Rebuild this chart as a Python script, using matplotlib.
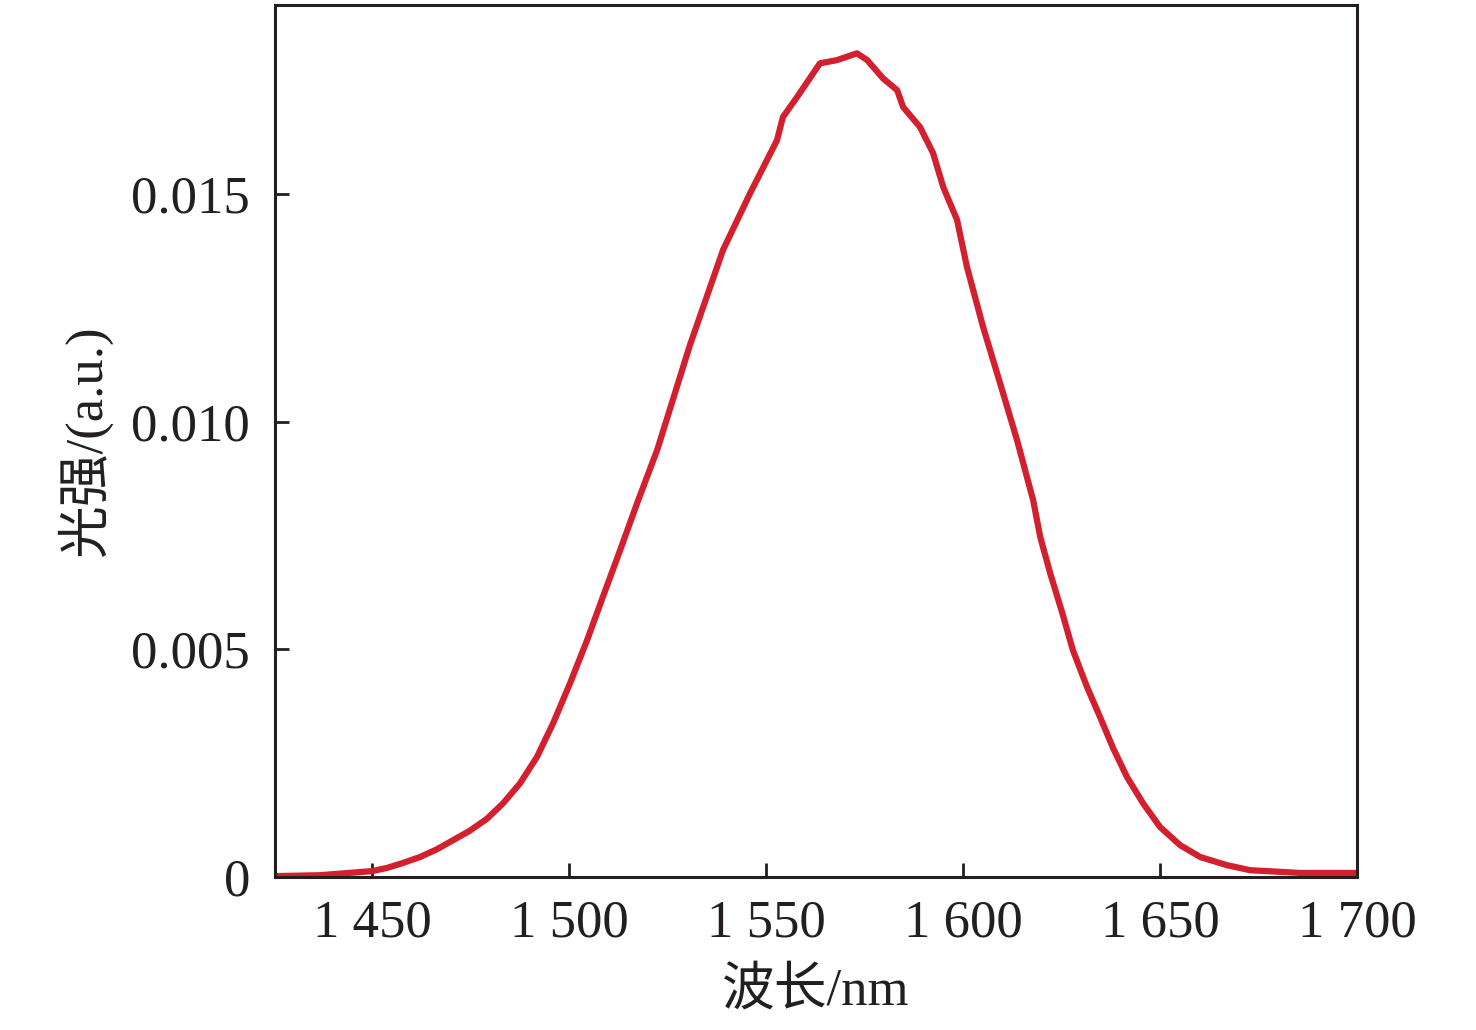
import matplotlib.pyplot as plt

# spectrum
wavelength = [1425.4, 1436.8, 1450.0, 1453.8, 1457.9, 1462.2, 1466.5, 1470.6,
              1474.9, 1479.2, 1483.3, 1487.6, 1491.9, 1496.0, 1500.3, 1504.6,
              1508.6, 1513.0, 1517.3, 1522.4, 1530.7, 1539.1, 1546.0, 1552.8,
              1554.3, 1557.9, 1563.7, 1568.0, 1573.1, 1575.7, 1579.7, 1583.3,
              1584.8, 1589.1, 1592.4, 1595.0, 1598.5, 1601.0, 1605.1, 1609.4,
              1613.7, 1617.8, 1619.6, 1622.1, 1625.2, 1627.9, 1631.5, 1634.8,
              1638.1, 1641.6, 1645.7, 1650.0, 1655.1, 1660.2, 1667.0, 1672.9,
              1685.6, 1699.5]
intensity = [0.00002, 0.00004, 0.00013, 0.00020, 0.00031, 0.00044, 0.00061,
             0.00081, 0.00102, 0.00128, 0.00162, 0.00206, 0.00264, 0.00338,
             0.00426, 0.00520, 0.00615, 0.00718, 0.00821, 0.00938, 0.01168,
             0.01377, 0.01502, 0.01618, 0.01669, 0.01713, 0.01787, 0.01794,
             0.01809, 0.01794, 0.01754, 0.01728, 0.01691, 0.01647, 0.01590,
             0.01515, 0.01443, 0.01340, 0.01208, 0.01085, 0.00960, 0.00828,
             0.00747, 0.00668, 0.00580, 0.00498, 0.00417, 0.00351, 0.00283,
             0.00220, 0.00162, 0.00110, 0.00070, 0.00044, 0.00026, 0.00015,
             0.00009, 0.00009]

x_ticks = [1450, 1500, 1550, 1600, 1650, 1700]
x_tick_labels = ["1 450", "1 500", "1 550", "1 600", "1 650", "1 700"]
y_ticks = [0, 0.005, 0.010, 0.015]
y_tick_labels = ["0", "0.005", "0.010", "0.015"]

fonts = ['Liberation Serif', 'Noto Sans CJK SC']
plt.rcParams['font.family'] = fonts

fig = plt.figure(figsize=(14.76, 10.30), dpi=100)
ax = fig.add_axes([0.1863, 0.1485, 0.7331, 0.8466])

ax.plot(wavelength, intensity, color='#d2202e', linewidth=4.5,
        solid_joinstyle='round')

ax.set_xlim(1425.4, 1700)
ax.set_ylim(0, 0.01915)
ax.set_xticks(x_ticks)
ax.set_xticklabels(x_tick_labels)
ax.set_yticks(y_ticks)
ax.set_yticklabels(y_tick_labels)

ax.tick_params(direction='in', length=10, width=2, labelsize=38,
               colors='#231f20', top=False, right=False)
ax.tick_params(axis='x', pad=16)
ax.tick_params(axis='y', pad=18)
for s in ax.spines.values():
    s.set_linewidth(2.2)
    s.set_color('#231f20')

ax.set_xlabel("波长/nm", fontsize=38, color='#231f20', labelpad=14)
ax.set_ylabel("光强/(a.u.)", fontsize=38, color='#231f20', labelpad=14)

fig.savefig("out.png", dpi=100)
